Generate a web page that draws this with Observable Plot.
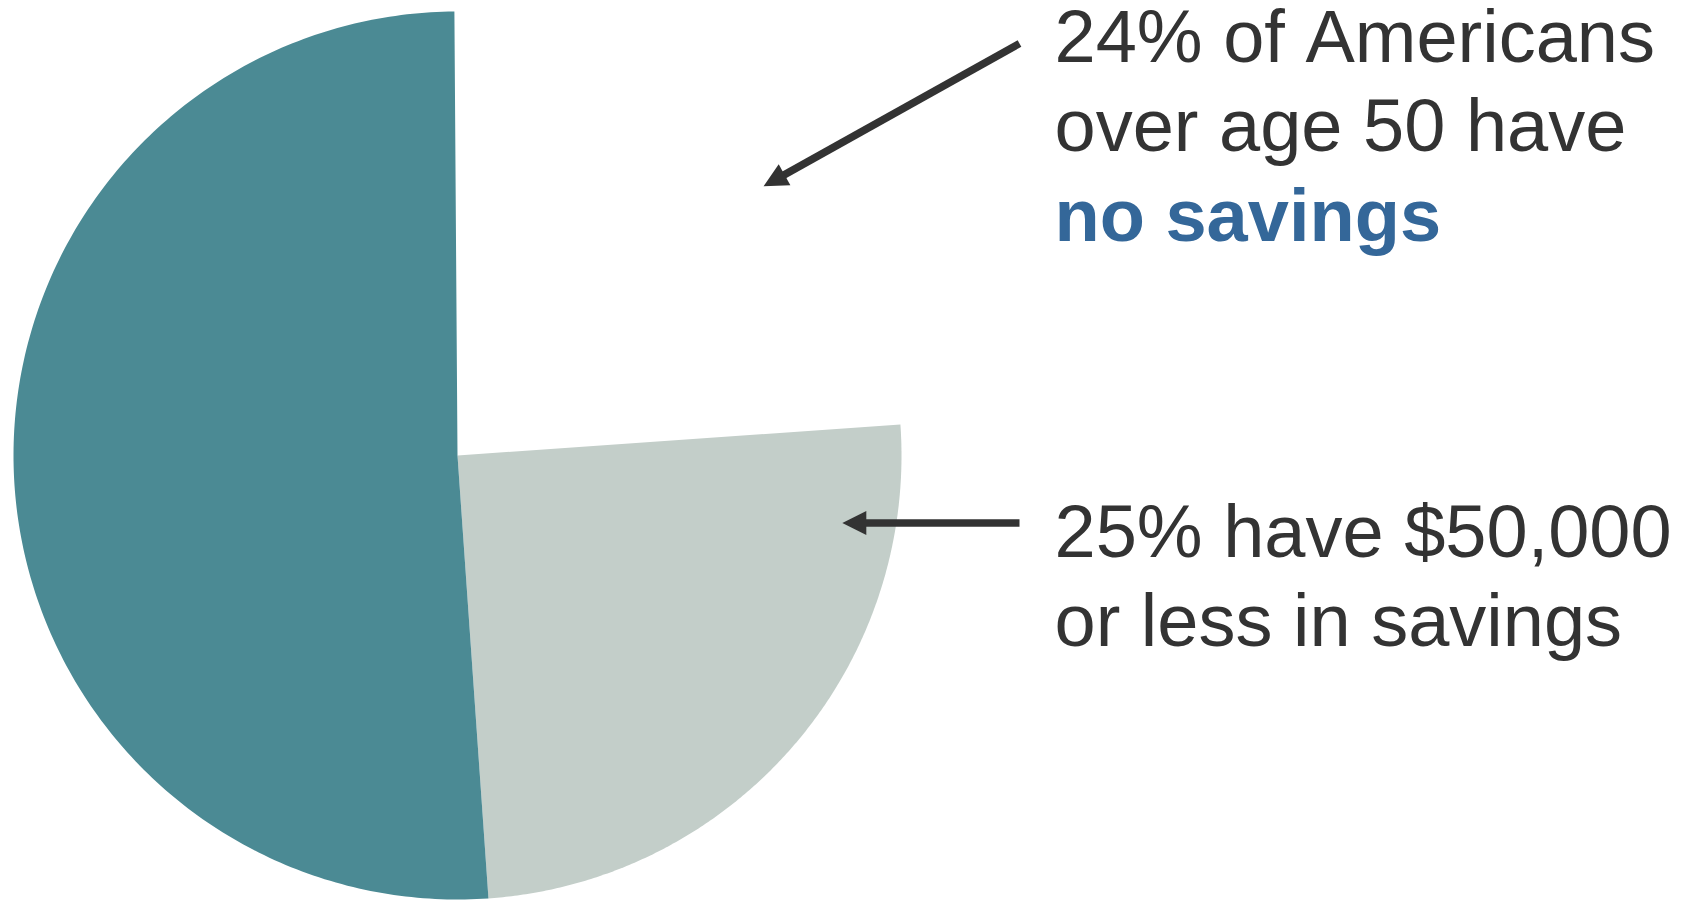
<!DOCTYPE html>
<html><head><meta charset="utf-8">
<script src="https://cdn.jsdelivr.net/npm/d3@7"></script>
<script src="https://cdn.jsdelivr.net/npm/@observablehq/plot@0.6"></script>
<style>html,body{margin:0;padding:0;background:#fff;} #chart svg{display:block;} #chart text{font-kerning:none;font-variant-ligatures:none;}</style>
</head><body><div id="chart"></div>
<script>
// ---- data ----
const categories = ["No savings", "$50,000 or less in savings", "More than $50,000 in savings"];
const shares = [24, 25, 51];
const sliceColors = ["#ffffff", "#c3cec9", "#4b8a94"];
const labelLines1 = ["24% of Americans", "over age 50 have"];
const labelEmphasis1 = ["no savings"];
const labelLines2 = ["25% have $50,000", "or less in savings"];

// ---- layout ----
const W = 1691, H = 903;
const cx = 457, cy = 455, R = 444;          // pie centre / radius in pixels
const rot = -0.4 * Math.PI / 180;           // slight rotation of the pie start
const X = px => (px - cx) / R, Y = py => (cy - py) / R;
const xDomain = [X(0), X(W)], yDomain = [Y(H), Y(0)];
const textX = 1054, lineStep = 89;

// ---- slices from d3.pie ----
const arcs = d3.pie().sort(null).startAngle(rot).endAngle(2 * Math.PI + rot)(shares);
const slicePts = [];
arcs.forEach((a, i) => {
  const cat = categories[i];
  slicePts.push({cat, x: 0, y: 0});
  const n = 240;
  for (let k = 0; k <= n; k++) {
    const t = a.startAngle + (a.endAngle - a.startAngle) * k / n;
    slicePts.push({cat, x: Math.sin(t), y: Math.cos(t)});
  }
});

// ---- annotation arrows: tips inside the slices they describe ----
function polarPx(arc, frac, r) {
  const t = arc.startAngle + (arc.endAngle - arc.startAngle) * frac;
  return [cx + R * r * Math.sin(t), cy - R * r * Math.cos(t)];
}
const tip1 = polarPx(arcs[0], 0.568, 0.918);
const tip2 = polarPx(arcs[1], 0.155, 0.88);
const arrowDefs = [
  {id: "a1", tail: [1019, 43], tip: tip1},
  {id: "a2", tail: [1019, tip2[1]], tip: tip2}
];
const headLen = 24, headHalf = 12;
const shafts = [], heads = [];
arrowDefs.forEach(d => {
  const [tx, ty] = d.tail, [px, py] = d.tip;
  const L = Math.hypot(px - tx, py - ty);
  const ux = (px - tx) / L, uy = (py - ty) / L;
  const bx = px - ux * headLen, by = py - uy * headLen;
  shafts.push({x1: X(tx), y1: Y(ty), x2: X(bx + ux * 2), y2: Y(by + uy * 2)});
  heads.push({id: d.id, x: X(px), y: Y(py)});
  heads.push({id: d.id, x: X(bx - uy * headHalf), y: Y(by + ux * headHalf)});
  heads.push({id: d.id, x: X(bx + uy * headHalf), y: Y(by - ux * headHalf)});
});

const font = "'Liberation Sans', Arial, Helvetica, sans-serif";

const chart = Plot.plot({
  width: W, height: H,
  margin: 0,
  x: {domain: xDomain, axis: null},
  y: {domain: yDomain, axis: null},
  color: {domain: categories, range: sliceColors},
  style: {background: "#ffffff", fontFamily: font, overflow: "visible"},
  marks: [
    Plot.line(slicePts, {x: "x", y: "y", z: "cat", fill: "cat", stroke: "none", curve: "linear-closed"}),
    Plot.link(shafts, {x1: "x1", y1: "y1", x2: "x2", y2: "y2", stroke: "#333333", strokeWidth: 7.5, strokeLinecap: "butt"}),
    Plot.line(heads, {x: "x", y: "y", z: "id", fill: "#333333", stroke: "none", curve: "linear-closed"}),
    Plot.text(labelLines1, {x: () => X(textX), y: (d, i) => Y(61 + i * lineStep), text: d => d,
      textAnchor: "start", lineAnchor: "bottom", fontSize: 74, fill: "#333333", fontFamily: font}),
    Plot.text(labelEmphasis1, {x: () => X(textX), y: () => Y(61 + 2 * lineStep + 1), text: d => d,
      textAnchor: "start", lineAnchor: "bottom", fontSize: 74, fontWeight: "bold", fill: "#346799", fontFamily: font}),
    Plot.text(labelLines2, {x: () => X(textX), y: (d, i) => Y(556 + i * lineStep), text: d => d,
      textAnchor: "start", lineAnchor: "bottom", fontSize: 74, fill: "#333333", fontFamily: font})
  ]
});
document.getElementById("chart").appendChild(chart);
</script>
</body></html>
